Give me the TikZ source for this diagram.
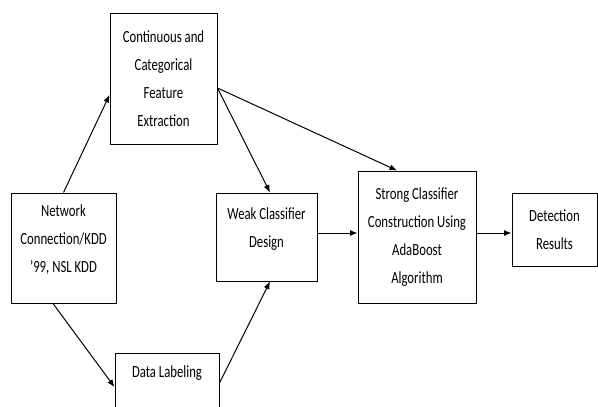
\documentclass[tikz,border=0pt]{standalone}
\usepackage{fontspec}
\setmainfont{Carlito}[FakeStretch=0.75]
\usetikzlibrary{positioning, arrows.meta}
\tikzset{
  stage/.style={
    draw=black,
    line width=1pt,
    align=center,
    inner sep=2pt,
    font=\fontsize{17}{28}\selectfont
  },
  every edge/.style={
    draw=black,
    ->,
    >={Latex[length=7.5pt,width=6pt]},
    line width=1pt
  }
}
\begin{document}
\begin{tikzpicture}[x=1pt, y=-1pt]
  \useasboundingbox (0,0) rectangle (598,407);
  \node[stage, minimum width=107pt, minimum height=131pt] (feat) at (163.5, 78.5) {Continuous and\\Categorical\\Feature\\Extraction};
  \node[stage, minimum width=105pt, minimum height=110pt] (net) at (63.5, 248) {Network\\Connection/KDD\\'99, NSL KDD\\[-10pt]};
  \node[stage, minimum width=104pt, minimum height=62pt] (label) at (167, 384) {Data Labeling\\[-4pt]};
  \node[stage, minimum width=101pt, minimum height=88pt] (weak) at (266.5, 237) {Weak Classifier\\Design\\[-10pt]};
  \node[stage, minimum width=118pt, minimum height=132pt] (strong) at (417, 237) {Strong Classifier\\Construction Using\\AdaBoost\\Algorithm};
  \node[stage, minimum width=85pt, minimum height=73pt] (result) at (554.5, 229.5) {Detection\\Results};

  \path (net.north) edge ([yshift=-16.5pt]feat.west)
        ([yshift=-9.5pt]feat.east) edge ([xshift=3.5pt]weak.north)
        ([yshift=-9.5pt]feat.east) edge ([xshift=-20pt]strong.north)
        ([xshift=-10.5pt]net.south) edge ([yshift=-3pt]label.west)
        ([yshift=1pt]label.east) edge ([xshift=3.5pt]weak.south)
        ([yshift=4pt]weak.east) edge ([yshift=4pt]strong.west)
        ([yshift=4pt]strong.east) edge ([yshift=-3.5pt]result.west);
\end{tikzpicture}
\end{document}
